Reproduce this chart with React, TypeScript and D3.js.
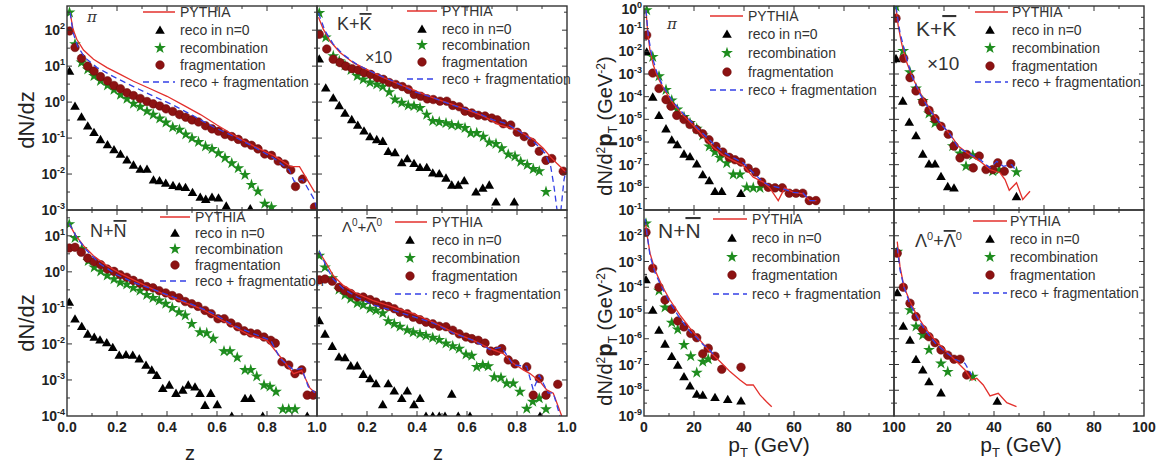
import React from 'react';
import * as d3 from 'd3';

type P = [number, number][];

// ---------- pi, dN/dz ----------
const zPiPythia: P = [[0.0125,310],[0.024,107],[0.039,56],[0.066,28],[0.106,15.5],[0.16,9.1],[0.213,5.9],[0.266,3.8],[0.333,2.35],[0.4,1.45],[0.467,0.81],[0.534,0.45],[0.6,0.23],[0.668,0.12],[0.749,0.059],[0.829,0.032],[0.896,0.016],[0.93,0.016],[0.99,0.0032]];
const zPiReco0: P = [[0.01,7.3],[0.032,0.78],[0.058,0.39],[0.083,0.22],[0.108,0.145],[0.134,0.092],[0.162,0.066],[0.188,0.048],[0.214,0.036],[0.24,0.025],[0.266,0.018],[0.293,0.0138],[0.32,0.0138],[0.346,0.0069],[0.37,0.0066],[0.395,0.0056],[0.424,0.0049],[0.449,0.0045],[0.474,0.0043],[0.502,0.0031],[0.533,0.0023],[0.555,0.002],[0.58,0.0023],[0.606,0.0022],[0.637,0.0013],[0.733,0.0011]];
const zPiRecomb: P = [[0.01,310],[0.032,41],[0.058,12.6],[0.083,8.1],[0.108,5.3],[0.134,3.9],[0.162,2.9],[0.188,2.2],[0.214,1.6],[0.24,1.24],[0.266,0.91],[0.293,0.74],[0.32,0.56],[0.345,0.45],[0.371,0.35],[0.396,0.27],[0.423,0.2],[0.45,0.17],[0.475,0.126],[0.5,0.1],[0.526,0.078],[0.554,0.059],[0.58,0.05],[0.606,0.038],[0.632,0.028],[0.659,0.02],[0.685,0.0145],[0.712,0.0095],[0.738,0.005],[0.764,0.0033],[0.791,0.0015],[0.818,0.0012]];
const zPiFrag: P = [[0.01,95],[0.032,33],[0.058,16.5],[0.083,10],[0.108,7.3],[0.134,5.1],[0.162,3.9],[0.188,2.9],[0.214,2.35],[0.24,1.82],[0.266,1.52],[0.293,1.26],[0.32,1.04],[0.345,0.89],[0.371,0.78],[0.396,0.65],[0.423,0.55],[0.45,0.45],[0.475,0.38],[0.5,0.32],[0.526,0.28],[0.554,0.22],[0.58,0.18],[0.606,0.155],[0.632,0.126],[0.659,0.11],[0.685,0.092],[0.712,0.073],[0.738,0.063],[0.764,0.05],[0.791,0.036],[0.818,0.033],[0.845,0.023],[0.871,0.019],[0.895,0.013],[0.914,0.0045],[0.942,0.0072],[0.99,0.0012]];
const zPiSum: P = [[0.0125,310],[0.024,87],[0.042,36],[0.072,17],[0.12,9.1],[0.186,5.1],[0.266,2.7],[0.347,1.45],[0.427,0.81],[0.507,0.41],[0.588,0.2],[0.668,0.11],[0.749,0.056],[0.829,0.027],[0.889,0.013],[0.909,0.0062],[0.942,0.0072],[0.99,0.0019],[1.0,0.001]];

// ---------- K, dN/dz ----------
const zKPythia: P = [[0.006,230],[0.025,107],[0.052,50],[0.092,24],[0.145,12.5],[0.199,8.1],[0.265,4.8],[0.332,3.1],[0.399,2.0],[0.465,1.32],[0.532,0.91],[0.599,0.62],[0.665,0.41],[0.732,0.23],[0.799,0.17],[0.865,0.092],[0.905,0.052],[0.932,0.031],[0.959,0.02],[0.992,0.012]];
const zKReco0: P = [[0.009,16],[0.035,2.5],[0.065,1.32],[0.089,0.81],[0.112,0.5],[0.139,0.33],[0.163,0.23],[0.188,0.16],[0.212,0.11],[0.239,0.092],[0.263,0.082],[0.285,0.043],[0.312,0.04],[0.339,0.021],[0.361,0.027],[0.388,0.02],[0.412,0.0155],[0.439,0.0155],[0.463,0.0108],[0.489,0.0103],[0.516,0.0078],[0.539,0.005],[0.565,0.005],[0.589,0.0066],[0.636,0.0032],[0.663,0.0041],[0.689,0.005],[0.716,0.0017],[0.789,0.0017]];
const zKRecomb: P = [[0.009,300],[0.035,63],[0.065,19],[0.089,13.8],[0.112,10.5],[0.136,7.8],[0.161,5.3],[0.185,4.3],[0.212,3.5],[0.239,3.1],[0.263,2.7],[0.289,1.9],[0.312,1.18],[0.339,0.96],[0.365,0.81],[0.388,0.78],[0.412,0.69],[0.439,0.45],[0.463,0.3],[0.489,0.28],[0.516,0.26],[0.539,0.23],[0.565,0.22],[0.592,0.19],[0.615,0.138],[0.639,0.138],[0.665,0.11],[0.689,0.076],[0.716,0.069],[0.739,0.052],[0.765,0.035],[0.792,0.031],[0.815,0.022],[0.841,0.018],[0.865,0.0138],[0.889,0.012],[0.916,0.0032]];
const zKFrag: P = [[0.009,77],[0.039,30],[0.065,15.5],[0.092,12.5],[0.115,10],[0.141,8.5],[0.165,7.8],[0.189,6.6],[0.215,5.9],[0.241,4.8],[0.265,4.3],[0.289,3.5],[0.315,3.1],[0.341,2.7],[0.365,2.25],[0.389,1.63],[0.415,1.45],[0.441,1.23],[0.465,1.18],[0.492,1.06],[0.519,1.06],[0.543,0.81],[0.569,0.74],[0.592,0.56],[0.619,0.5],[0.645,0.43],[0.672,0.41],[0.699,0.36],[0.721,0.32],[0.745,0.25],[0.775,0.23],[0.801,0.145],[0.829,0.11],[0.859,0.076],[0.889,0.043],[0.916,0.024],[0.939,0.027],[0.985,0.012]];
const zKSum: P = [[0.006,300],[0.032,96],[0.065,41],[0.105,21],[0.159,11.2],[0.225,6.6],[0.305,3.8],[0.385,2.0],[0.465,1.32],[0.545,0.81],[0.625,0.56],[0.705,0.32],[0.759,0.25],[0.812,0.15],[0.865,0.082],[0.912,0.038],[0.935,0.016],[0.948,0.0045],[0.961,0.0009],[0.975,0.0009],[0.988,0.0069],[0.995,0.012]];

// ---------- N, dN/dz ----------
const zNPythia: P = [[0.009,21],[0.032,11],[0.066,5.3],[0.106,2.8],[0.16,1.48],[0.213,0.91],[0.266,0.6],[0.333,0.36],[0.4,0.22],[0.467,0.145],[0.534,0.096],[0.6,0.054],[0.668,0.03],[0.734,0.017],[0.8,0.0126],[0.853,0.0044],[0.906,0.0015],[0.939,0.0018],[0.972,0.00059],[0.992,0.00044]];
const zNReco0: P = [[0.009,0.145],[0.032,0.05],[0.059,0.031],[0.083,0.019],[0.109,0.0155],[0.132,0.013],[0.159,0.011],[0.183,0.0081],[0.209,0.0049],[0.236,0.0051],[0.263,0.0049],[0.289,0.0039],[0.316,0.0026],[0.339,0.0019],[0.359,0.00135],[0.383,0.00059],[0.409,0.00073],[0.436,0.00043],[0.463,0.00053],[0.485,0.00073],[0.512,0.00065],[0.532,0.00043],[0.552,0.0002],[0.575,0.00043],[0.601,0.00021],[0.659,0.0001],[0.712,0.00031],[0.735,0.00031],[0.783,0.0001],[0.961,0.0001]];
const zNRecomb: P = [[0.009,21],[0.032,8.7],[0.059,4.3],[0.085,2.0],[0.109,1.33],[0.135,1.03],[0.161,0.79],[0.188,0.63],[0.213,0.51],[0.239,0.45],[0.265,0.36],[0.292,0.3],[0.319,0.23],[0.344,0.19],[0.369,0.16],[0.395,0.13],[0.421,0.1],[0.448,0.076],[0.473,0.062],[0.499,0.036],[0.532,0.021],[0.559,0.02],[0.585,0.014],[0.628,0.0063],[0.652,0.0063],[0.681,0.0042],[0.712,0.0019],[0.735,0.0019],[0.759,0.00126],[0.788,0.00072],[0.812,0.00065],[0.836,0.00047],[0.863,0.000155],[0.887,0.000155],[0.912,0.000155]];
const zNFrag: P = [[0.009,4.6],[0.032,4.8],[0.057,3.5],[0.083,2.4],[0.109,1.9],[0.135,1.58],[0.161,1.2],[0.188,1.03],[0.213,0.83],[0.239,0.71],[0.265,0.58],[0.292,0.48],[0.319,0.39],[0.344,0.36],[0.369,0.3],[0.395,0.26],[0.421,0.22],[0.448,0.19],[0.473,0.15],[0.499,0.13],[0.524,0.11],[0.552,0.085],[0.577,0.069],[0.604,0.05],[0.629,0.05],[0.656,0.038],[0.683,0.03],[0.709,0.023],[0.735,0.02],[0.761,0.019],[0.788,0.0155],[0.815,0.0126],[0.833,0.0105],[0.86,0.0032],[0.887,0.0026],[0.912,0.0015],[0.939,0.0019],[0.961,0.00038],[0.985,0.00038]];
const zNSum: P = [[0.009,22],[0.039,9],[0.079,3.9],[0.133,1.65],[0.2,0.83],[0.266,0.51],[0.347,0.32],[0.427,0.2],[0.507,0.12],[0.587,0.069],[0.668,0.032],[0.748,0.019],[0.815,0.0126],[0.853,0.0039],[0.906,0.0019],[0.939,0.0021],[0.965,0.00065],[0.992,0.00044]];

// ---------- Lambda, dN/dz ----------
const zLPythia: P = [[0.009,3.5],[0.039,1.65],[0.065,0.79],[0.105,0.42],[0.159,0.25],[0.225,0.16],[0.305,0.105],[0.385,0.069],[0.465,0.04],[0.545,0.021],[0.625,0.0126],[0.692,0.0074],[0.745,0.0054],[0.785,0.0029],[0.825,0.0019],[0.852,0.0015],[0.892,0.0009],[0.919,0.00053],[0.945,0.00043],[0.979,0.0001]];
const zLReco0: P = [[0.009,0.045],[0.032,0.019],[0.061,0.0087],[0.088,0.0044],[0.112,0.0042],[0.135,0.0025],[0.161,0.0025],[0.185,0.00145],[0.212,0.0011],[0.236,0.0008],[0.263,0.00021],[0.285,0.0008],[0.309,0.0005],[0.339,0.00031],[0.361,0.0005],[0.388,0.00021],[0.412,0.00031],[0.436,0.0001],[0.463,0.0001],[0.489,0.0001],[0.512,0.0001],[0.539,0.00041],[0.565,0.0001],[0.612,0.0001],[0.892,0.0001]];
const zLRecomb: P = [[0.009,2.8],[0.032,1.33],[0.061,0.67],[0.088,0.32],[0.112,0.23],[0.135,0.18],[0.161,0.135],[0.185,0.12],[0.212,0.095],[0.236,0.085],[0.263,0.071],[0.285,0.043],[0.309,0.036],[0.332,0.03],[0.361,0.024],[0.385,0.021],[0.412,0.019],[0.436,0.017],[0.463,0.0148],[0.489,0.013],[0.516,0.0103],[0.543,0.0087],[0.569,0.0074],[0.596,0.0051],[0.619,0.0047],[0.639,0.0023],[0.663,0.0026],[0.685,0.0024],[0.709,0.0012],[0.736,0.00115],[0.759,0.0008],[0.785,0.0008],[0.812,0.00047],[0.839,0.00016],[0.863,0.00025],[0.889,0.00031],[0.916,0.000155]];
const zLFrag: P = [[0.009,0.6],[0.032,0.63],[0.061,0.55],[0.088,0.37],[0.112,0.3],[0.135,0.25],[0.161,0.2],[0.185,0.2],[0.212,0.17],[0.236,0.145],[0.263,0.12],[0.285,0.11],[0.309,0.095],[0.332,0.076],[0.361,0.069],[0.385,0.055],[0.412,0.047],[0.436,0.04],[0.463,0.036],[0.489,0.031],[0.516,0.03],[0.543,0.024],[0.569,0.019],[0.596,0.0155],[0.619,0.014],[0.645,0.0126],[0.672,0.0105],[0.695,0.0063],[0.719,0.0063],[0.739,0.0074],[0.765,0.0036],[0.792,0.0028],[0.839,0.0023],[0.865,0.00038],[0.889,0.0011],[0.916,0.00038],[0.963,0.00076]];
const zLSum: P = [[0.009,3.8],[0.039,1.33],[0.065,0.63],[0.105,0.34],[0.159,0.2],[0.225,0.12],[0.305,0.085],[0.385,0.057],[0.465,0.038],[0.545,0.02],[0.625,0.0126],[0.692,0.007],[0.739,0.0081],[0.785,0.0026],[0.839,0.0024],[0.865,0.00053],[0.889,0.00135],[0.925,0.00043],[0.945,0.00044],[0.972,0.0001]];

// ---------- pi, pT ----------
const pPiPythia: P = [[0.8,0.66],[1.5,0.062],[2.4,0.011],[3.7,0.0025],[5.7,6.3e-4],[8.4,1.8e-4],[11.7,4.9e-5],[15.7,1.5e-5],[19.7,5.4e-6],[23.7,1.8e-6],[27.7,5.9e-7],[31.7,2.6e-7],[35.7,1.5e-7],[39.7,9.2e-8],[43.7,2.8e-8],[47.7,1.7e-8],[50.3,9.5e-9],[53.7,2.6e-9],[56.3,9.5e-9],[59.7,6e-9],[63.7,5.1e-9],[66.3,2.6e-9],[69,2.6e-9]];
const pPiReco0: P = [[1.07,0.0095],[3.5,9.8e-5],[6.0,1.5e-5],[8.8,3.9e-6],[11.1,1.26e-6],[13.3,7.8e-7],[16,3e-7],[18.4,2.3e-7],[21.1,1.1e-7],[23.5,3.7e-8],[26.1,2e-8],[28.4,6.7e-9],[31.1,6.7e-9],[38.8,5.5e-9]];
const pPiRecomb: P = [[1.07,0.66],[3.5,0.0057],[6.0,8e-4],[8.8,2e-4],[11.1,6.9e-5],[13.3,2.7e-5],[16,1.27e-5],[18.4,6.9e-6],[21.1,3.9e-6],[23.5,1.96e-6],[26.1,6.4e-7],[28.4,3.6e-7],[30.4,2e-7],[33.1,1.17e-7],[35.7,3.7e-8],[38.4,3.7e-8],[41.1,1e-8],[43.7,9.5e-9],[46.4,9.5e-9]];
const pPiFrag: P = [[1.07,0.052],[3.5,0.0011],[6.0,2.3e-4],[8.8,7.4e-5],[10.8,3.8e-5],[13.1,1.5e-5],[16,9.8e-6],[18.4,5.9e-6],[21.1,3.5e-6],[23.5,2.3e-6],[26,1.26e-6],[28.8,6.4e-7],[31.5,3.6e-7],[34.1,2.1e-7],[36.4,1.65e-7],[38.8,1.3e-7],[41.7,7e-8],[44.7,4.7e-8],[47.1,1.7e-8],[49.7,1e-8],[52.4,9.5e-9],[55.3,9.5e-9],[58.1,5.5e-9],[60.8,5.5e-9],[63.5,5.5e-9],[66.1,2.6e-9],[68.8,2.6e-9]];
const pPiSum: P = [[0.8,0.66],[1.7,0.049],[3.1,0.0068],[5.1,0.0012],[7.7,2.7e-4],[11.7,5.8e-5],[15.7,1.8e-5],[19.7,6.4e-6],[23.7,2.3e-6],[27.7,8.5e-7],[31.7,3.6e-7],[35.7,2e-7],[39.7,1.2e-7],[43.7,4.4e-8],[47.7,1.7e-8],[50.3,1.2e-8],[54.3,9.5e-9],[59.7,6e-9],[63.7,5.5e-9],[66.3,2.6e-9],[69,2.6e-9]];

// ---------- K, pT ----------
const pKPythia: P = [[0.8,0.74],[1.7,0.13],[3.1,0.021],[5.1,0.0032],[7.7,5.9e-4],[11.1,1.1e-4],[14.4,2.8e-5],[18.4,7e-6],[22.4,2.2e-6],[25.7,6.6e-7],[29.1,3.4e-7],[34.4,1.4e-7],[38.4,6.1e-8],[42.4,4.4e-8],[44.4,2.2e-8],[46.1,7.4e-9],[49,1.6e-8],[51.5,2.9e-9],[54.4,6.7e-9]];
const pKReco0: P = [[0.8,0.0049],[3.5,6.5e-5],[6.1,7.6e-6],[8.8,1.95e-6],[11.5,3e-7],[14,1.1e-7],[16.4,1.1e-7],[18.8,3.1e-8],[21.5,1.1e-8],[24,9.5e-9],[49,4e-9]];
const pKRecomb: P = [[0.8,0.93],[3.7,0.0105],[6.4,0.0012],[8.8,2.3e-4],[11.5,6.5e-5],[14,1.8e-5],[16.4,6.9e-6],[23.5,6.6e-7],[26.4,3.1e-7],[28.8,8.6e-8],[31.5,2.6e-7],[39.5,5.1e-8],[42.1,5.7e-8],[49,4.7e-8]];
const pKFrag: P = [[0.8,0.29],[3.9,0.0049],[6.4,6.9e-4],[8.8,1.8e-4],[11.5,5.9e-5],[14,2.5e-5],[16.4,1.07e-5],[18.8,4.9e-6],[21.7,2.2e-6],[24,6.6e-7],[26.4,2e-7],[29.1,2.8e-7],[31.7,7.2e-8],[34.1,2.4e-7],[36.8,6.1e-8],[39.5,6.1e-8],[41.5,1.2e-7],[44.1,5.1e-8],[46.7,1.1e-7]];
const pKSum: P = [[0.8,0.93],[2.4,0.068],[4.4,0.0089],[7.1,8.3e-4],[10.4,1.3e-4],[14.4,2.4e-5],[18.4,7e-6],[22.4,2.2e-6],[25.7,5.6e-7],[29.7,3.2e-7],[34.4,1.7e-7],[38.4,7.2e-8],[41.1,1.4e-7],[43.7,8.5e-8],[47.1,1e-7],[49,5e-8]];

// ---------- N, pT ----------
const pNPythia: P = [[0.5,0.041],[1.1,0.0125],[2.4,0.0021],[4.4,4.7e-4],[7.1,1.2e-4],[10.4,3.2e-5],[14.4,8.3e-6],[18.4,2.6e-6],[22.4,8.9e-7],[26.4,3.1e-7],[30.4,1.3e-7],[34.4,5.3e-8],[38.4,2.5e-8],[41.1,1.6e-8],[43.7,1.6e-8],[46.4,6.6e-9],[49,3.6e-9],[51.1,2.3e-9]];
const pNReco0: P = [[0.8,2e-4],[3.5,1.3e-5],[6.0,2.2e-6],[8.4,6.3e-7],[11.1,2.1e-7],[13.5,9.6e-8],[16,3.4e-8],[18.4,1.5e-8],[21.1,7.1e-9],[23.5,6.5e-9],[28.4,5.3e-9],[33.5,4.5e-9],[38.8,3.9e-9]];
const pNRecomb: P = [[0.8,0.03],[6.0,7.4e-5],[8.4,1.66e-5],[11.1,4.2e-6],[13.5,2.3e-6],[16,5.8e-7],[18.7,2.1e-7],[21.1,4.8e-8],[23.5,1.3e-7],[25.7,1.6e-7]];
const pNFrag: P = [[0.8,0.0136],[3.5,5.5e-4],[6.0,1e-4],[8.4,3.2e-5],[11.1,1.38e-5],[13.5,4.9e-6],[16,2.9e-6],[18.7,1.6e-6],[21.1,1.1e-6],[23.5,2.6e-7],[25.7,4.3e-7],[28.4,2.1e-7],[31.1,6.5e-8],[38.8,7.8e-8]];
const pNSum: P = [[0.5,0.045],[1.1,0.0145],[2.4,0.0017],[4.4,3.7e-4],[7.1,1e-4],[10.4,2.5e-5],[14.4,6.2e-6],[18.4,1.9e-6],[21.1,1.1e-6],[23.7,5.8e-7],[25.7,4.3e-7],[28.4,2.1e-7]];

// ---------- Lambda, pT ----------
const pLPythia: P = [[1.3,0.0059],[2.4,6.3e-4],[4,1.05e-4],[6.4,2.8e-5],[9.1,8.3e-6],[12.5,2.6e-6],[16.4,8.9e-7],[20.5,3.6e-7],[24.4,1.5e-7],[28.4,6.1e-8],[31.1,2.5e-8],[33.1,2.9e-8],[35.7,1.6e-8],[38.4,6e-9],[41.7,7.6e-9],[45.1,3.3e-9],[49,2.3e-9]];
const pLReco0: P = [[1.3,6.2e-5],[3.7,3.1e-6],[6.4,8.9e-7],[8.8,1.6e-7],[11.5,6.2e-8],[14,2.2e-8],[18.8,8.1e-9],[41.3,3.8e-9]];
const pLRecomb: P = [[1.3,0.0024],[6.4,1.3e-5],[8.8,3e-6],[11.5,1.4e-6],[14,3.7e-7],[18.8,1.1e-7],[21.5,5.2e-8],[31.5,3.4e-8]];
const pLFrag: P = [[1.3,0.0021],[3.7,1e-4],[6.4,2.4e-5],[8.8,7.2e-6],[11.5,2.3e-6],[14,1.2e-6],[16.4,7e-7],[18.8,3.7e-7],[21.5,2.3e-7],[24,1.6e-7],[26.4,1.6e-7],[29.1,3.9e-8]];
const pLSum: P = [[1.3,0.0035],[2.4,4.7e-4],[4,1e-4],[6.4,2.2e-5],[9.1,7.2e-6],[12.5,2.1e-6],[16.4,7e-7],[20.5,3.1e-7],[24.4,1.6e-7],[28.4,1.1e-7],[31.1,3.9e-8]];

// ---------- ticks / labels ----------
const zTickLabels = ['0.0', '0.2', '0.4', '0.6', '0.8', '1.0'];
const pTickLabels = ['0', '20', '40', '60', '80', '100'];
const legendLabels = ['PYTHIA', 'reco in n=0', 'recombination', 'fragmentation', 'reco + fragmentation'];

const FONT = 'Liberation Sans, Arial, Helvetica, sans-serif';
const RED = '#e3302c';
const BLUE = '#3440e6';
const GREEN = '#1e8c1e';
const DRED = '#8c1212';
const FRAME = '#333';

const TOP = 6, MID = 210, BOT = 416;

type Series = { pythia: P; reco0: P; recomb: P; frag: P; sum: P };
type PanelCfg = {
  id: string;
  x0: number; x1: number; y0: number; y1: number;
  xDom: [number, number]; yDom: [number, number];
  kind: 'z' | 'p';
  s: Series;
  leg: { lx1: number; lx2: number; mx: number; tx: number; ys: number[] };
  yLabels: number[];
};

const panels: PanelCfg[] = [
  { id: 'a', x0: 67, x1: 317, y0: TOP, y1: MID, xDom: [0, 1], yDom: [1e-3, 470], kind: 'z',
    s: { pythia: zPiPythia, reco0: zPiReco0, recomb: zPiRecomb, frag: zPiFrag, sum: zPiSum },
    leg: { lx1: 143, lx2: 175, mx: 160, tx: 180, ys: [12, 30, 48, 65, 82] }, yLabels: [2, 1, 0, -1, -2, -3] },
  { id: 'b', x0: 317, x1: 567, y0: TOP, y1: MID, xDom: [0, 1], yDom: [1e-3, 470], kind: 'z',
    s: { pythia: zKPythia, reco0: zKReco0, recomb: zKRecomb, frag: zKFrag, sum: zKSum },
    leg: { lx1: 407, lx2: 437, mx: 422, tx: 442, ys: [11, 29, 45, 62, 79] }, yLabels: [] },
  { id: 'c', x0: 67, x1: 317, y0: MID, y1: BOT, xDom: [0, 1], yDom: [1e-4, 52], kind: 'z',
    s: { pythia: zNPythia, reco0: zNReco0, recomb: zNRecomb, frag: zNFrag, sum: zNSum },
    leg: { lx1: 160, lx2: 190, mx: 175, tx: 195, ys: [217, 233, 249, 265, 281] }, yLabels: [1, 0, -1, -2, -3, -4] },
  { id: 'd', x0: 317, x1: 567, y0: MID, y1: BOT, xDom: [0, 1], yDom: [1e-4, 52], kind: 'z',
    s: { pythia: zLPythia, reco0: zLReco0, recomb: zLRecomb, frag: zLFrag, sum: zLSum },
    leg: { lx1: 395, lx2: 427, mx: 410, tx: 432, ys: [222, 240, 258, 276, 294] }, yLabels: [] },
  { id: 'e', x0: 644, x1: 894, y0: TOP, y1: MID, xDom: [0, 100], yDom: [1e-9, 1], kind: 'p',
    s: { pythia: pPiPythia, reco0: pPiReco0, recomb: pPiRecomb, frag: pPiFrag, sum: pPiSum },
    leg: { lx1: 710, lx2: 743, mx: 727, tx: 748, ys: [16, 34, 53, 72, 90] }, yLabels: [0, -1, -2, -3, -4, -5, -6, -7, -8] },
  { id: 'f', x0: 894, x1: 1144, y0: TOP, y1: MID, xDom: [0, 100], yDom: [1e-9, 1], kind: 'p',
    s: { pythia: pKPythia, reco0: pKReco0, recomb: pKRecomb, frag: pKFrag, sum: pKSum },
    leg: { lx1: 975, lx2: 1008, mx: 990, tx: 1012, ys: [12, 30, 48, 66, 82] }, yLabels: [] },
  { id: 'g', x0: 644, x1: 894, y0: MID, y1: BOT, xDom: [0, 100], yDom: [1e-9, 0.1], kind: 'p',
    s: { pythia: pNPythia, reco0: pNReco0, recomb: pNRecomb, frag: pNFrag, sum: pNSum },
    leg: { lx1: 713, lx2: 747, mx: 732, tx: 752, ys: [219, 238, 257, 275, 294] }, yLabels: [-1, -2, -3, -4, -5, -6, -7, -8, -9] },
  { id: 'h', x0: 894, x1: 1144, y0: MID, y1: BOT, xDom: [0, 100], yDom: [1e-9, 0.1], kind: 'p',
    s: { pythia: pLPythia, reco0: pLReco0, recomb: pLRecomb, frag: pLFrag, sum: pLSum },
    leg: { lx1: 973, lx2: 1007, mx: 990, tx: 1010, ys: [221, 239, 257, 275, 293] }, yLabels: [] },
];

const triPath = d3.symbol().type(d3.symbolTriangle).size(40)() as string;
const starPath = d3.symbol().type(d3.symbolStar).size(44)() as string;

function Tri({ x, y }: { x: number; y: number }) {
  return <path d={triPath} transform={`translate(${x},${y + 1})`} fill="#000" />;
}
function Star({ x, y }: { x: number; y: number }) {
  return <path d={starPath} transform={`translate(${x},${y})`} fill={GREEN} />;
}
function Dot({ x, y }: { x: number; y: number }) {
  return <circle cx={x} cy={y} r={4.3} fill={DRED} stroke="#6a0a0a" strokeWidth={0.5} />;
}

function Panel({ c }: { c: PanelCfg }) {
  const xs = d3.scaleLinear().domain(c.xDom).range([c.x0, c.x1]);
  const ys = d3.scaleLog().domain(c.yDom).range([c.y1, c.y0]);
  const line = d3.line<[number, number]>().x(d => xs(d[0])).y(d => ys(d[1]));
  const clip = `clip-${c.id}`;

  const ticks: JSX.Element[] = [];
  const xStep = c.kind === 'z' ? 0.1 : 10;
  const nX = Math.round((c.xDom[1] - c.xDom[0]) / xStep);
  for (let i = 1; i < nX; i++) {
    const v = c.xDom[0] + i * xStep;
    const L = i % 2 === 0 ? 5 : 3;
    const x = xs(v);
    ticks.push(<line key={`xb${i}`} x1={x} x2={x} y1={c.y1} y2={c.y1 - L} stroke={FRAME} strokeWidth={1} />);
    ticks.push(<line key={`xt${i}`} x1={x} x2={x} y1={c.y0} y2={c.y0 + L} stroke={FRAME} strokeWidth={1} />);
  }
  const lo = Math.log10(c.yDom[0]), hi = Math.log10(c.yDom[1]);
  for (let e = Math.ceil(lo * 2) / 2; e <= hi; e += 0.5) {
    const major = Math.abs(e - Math.round(e)) < 1e-6;
    const L = major ? 5 : 3;
    const y = ys(Math.pow(10, e));
    if (y <= c.y0 + 0.5 || y >= c.y1 - 0.5) continue;
    ticks.push(<line key={`yl${e}`} x1={c.x0} x2={c.x0 + L} y1={y} y2={y} stroke={FRAME} strokeWidth={1} />);
    ticks.push(<line key={`yr${e}`} x1={c.x1} x2={c.x1 - L} y1={y} y2={y} stroke={FRAME} strokeWidth={1} />);
  }

  const yLab = c.yLabels.map(e => (
    <text key={`yt${e}`} x={c.x0 - 2} y={Math.max(ys(Math.pow(10, e)) + 5, 14)} textAnchor="end" fontFamily={FONT}
      fontWeight="bold" fontSize={14} fill="#222">
      10<tspan dy={-6} fontSize={9}>{String(e)}</tspan>
    </text>
  ));

  const inDom = (d: [number, number]) => d[1] >= c.yDom[0] * 0.999 && d[1] <= c.yDom[1];
  const lg = c.leg;

  return (
    <g>
      <defs>
        <clipPath id={clip}>
          <rect x={c.x0} y={c.y0} width={c.x1 - c.x0} height={c.y1 - c.y0} />
        </clipPath>
      </defs>
      <g clipPath={`url(#${clip})`}>
        {c.s.reco0.filter(inDom).map((d, i) => <Tri key={`t${i}`} x={xs(d[0])} y={ys(d[1])} />)}
        {c.s.recomb.filter(inDom).map((d, i) => <Star key={`s${i}`} x={xs(d[0])} y={ys(d[1])} />)}
        {c.s.frag.filter(inDom).map((d, i) => <Dot key={`c${i}`} x={xs(d[0])} y={ys(d[1])} />)}
        <path d={line(c.s.pythia) || ''} fill="none" stroke={RED} strokeWidth={1.3} />
        <path d={line(c.s.sum) || ''} fill="none" stroke={BLUE} strokeWidth={1.3} strokeDasharray="6,4" />
      </g>
      {ticks}
      <rect x={c.x0} y={c.y0} width={c.x1 - c.x0} height={c.y1 - c.y0} fill="none" stroke={FRAME} strokeWidth={1.4} />
      {yLab}
      <g fontFamily={FONT} fontSize={14} fill="#333">
        <line x1={lg.lx1} x2={lg.lx2} y1={lg.ys[0]} y2={lg.ys[0]} stroke={RED} strokeWidth={1.5} />
        <Tri x={lg.mx} y={lg.ys[1]} />
        <Star x={lg.mx} y={lg.ys[2]} />
        <Dot x={lg.mx} y={lg.ys[3]} />
        <line x1={lg.lx1} x2={lg.lx2} y1={lg.ys[4]} y2={lg.ys[4]} stroke={BLUE} strokeWidth={1.5} strokeDasharray="6,4" />
        {legendLabels.map((t, i) => (
          <text key={t} x={lg.tx} y={lg.ys[i] + 5}>{t}</text>
        ))}
      </g>
    </g>
  );
}

export default function App() {
  const zx = d3.scaleLinear().domain([0, 1]).range([67, 317]);
  const zx2 = d3.scaleLinear().domain([0, 1]).range([317, 567]);
  const px = d3.scaleLinear().domain([0, 100]).range([644, 894]);
  const px2 = d3.scaleLinear().domain([0, 100]).range([894, 1144]);
  const zVals = [0, 0.2, 0.4, 0.6, 0.8, 1.0];
  const pVals = [0, 20, 40, 60, 80, 100];
  const tickLab = { fontFamily: FONT, fontWeight: 'bold' as const, fontSize: 14, fill: '#222', textAnchor: 'middle' as const };

  return (
    <svg width={1164} height={466} style={{ position: 'absolute', left: 0, top: 0, background: '#fff' }}>
      <rect x={0} y={0} width={1164} height={466} fill="#fff" />
      {panels.map(c => <Panel key={c.id} c={c} />)}

      {zVals.map((v, i) => <text key={`zl${i}`} x={zx(v)} y={432} {...tickLab}>{zTickLabels[i]}</text>)}
      {zVals.slice(1).map((v, i) => <text key={`zl2${i}`} x={zx2(v)} y={432} {...tickLab}>{zTickLabels[i + 1]}</text>)}
      {pVals.map((v, i) => <text key={`pl${i}`} x={px(v)} y={432} {...tickLab}>{pTickLabels[i]}</text>)}
      {pVals.slice(1).map((v, i) => <text key={`pl2${i}`} x={px2(v)} y={432} {...tickLab}>{pTickLabels[i + 1]}</text>)}

      <g fontFamily={FONT} fill="#222">
        <text transform="translate(34,120) rotate(-90)" textAnchor="middle" fontSize={22}>dN/dz</text>
        <text transform="translate(34,323) rotate(-90)" textAnchor="middle" fontSize={22}>dN/dz</text>
        <text x={190} y={460} textAnchor="middle" fontSize={20}>z</text>
        <text x={438} y={460} textAnchor="middle" fontSize={20}>z</text>
        <text transform="translate(612,126) rotate(-90)" textAnchor="middle" fontSize={20}>
          dN/d<tspan dy={-7} fontSize={12}>2</tspan><tspan dy={7} fontWeight="bold" fontSize={22}>p</tspan><tspan dy={5} fontSize={12}>T</tspan><tspan dy={-5}> (GeV</tspan><tspan dy={-7} fontSize={12}>-2</tspan><tspan dy={7}>)</tspan>
        </text>
        <text transform="translate(612,336) rotate(-90)" textAnchor="middle" fontSize={20}>
          dN/d<tspan dy={-7} fontSize={12}>2</tspan><tspan dy={7} fontWeight="bold" fontSize={22}>p</tspan><tspan dy={5} fontSize={12}>T</tspan><tspan dy={-5}> (GeV</tspan><tspan dy={-7} fontSize={12}>-2</tspan><tspan dy={7}>)</tspan>
        </text>
        <text x={769} y={452} textAnchor="middle" fontSize={21}>p<tspan dy={5} fontSize={13}>T</tspan><tspan dy={-5}> (GeV)</tspan></text>
        <text x={1021} y={452} textAnchor="middle" fontSize={21}>p<tspan dy={5} fontSize={13}>T</tspan><tspan dy={-5}> (GeV)</tspan></text>
      </g>

      <g fontFamily={FONT} fill="#333">
        <text x={92} y={22} fontSize={15} textAnchor="middle" fontFamily="DejaVu Serif, serif" fontStyle="italic">π</text>
        <text x={337} y={30} fontSize={18}>K+<tspan style={{ textDecoration: 'overline' }}>K</tspan></text>
        <text x={365} y={63} fontSize={16}>×10</text>
        <text x={90} y={237} fontSize={18}>N+<tspan style={{ textDecoration: 'overline' }}>N</tspan></text>
        <text x={342} y={232} fontSize={15}>Λ<tspan dy={-6} fontSize={10}>0</tspan><tspan dy={6}>+</tspan><tspan style={{ textDecoration: 'overline' }}>Λ</tspan><tspan dy={-6} fontSize={10}>0</tspan></text>
        <text x={672} y={29} fontSize={15} textAnchor="middle" fontFamily="DejaVu Serif, serif" fontStyle="italic">π</text>
        <text x={916} y={36} fontSize={21}>K+<tspan style={{ textDecoration: 'overline' }}>K</tspan></text>
        <text x={927} y={70} fontSize={19}>×10</text>
        <text x={658} y={238} fontSize={21}>N+<tspan style={{ textDecoration: 'overline' }}>N</tspan></text>
        <text x={915} y={247} fontSize={18}>Λ<tspan dy={-7} fontSize={11}>0</tspan><tspan dy={7}>+</tspan><tspan style={{ textDecoration: 'overline' }}>Λ</tspan><tspan dy={-7} fontSize={11}>0</tspan></text>
      </g>
    </svg>
  );
}
